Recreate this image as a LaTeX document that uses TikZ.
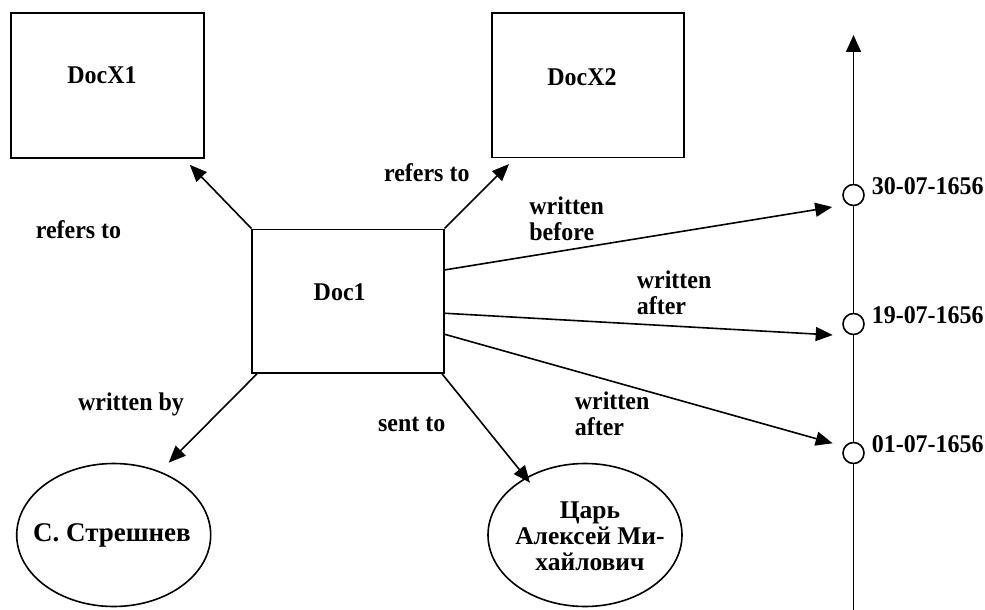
\documentclass[tikz,border=0pt]{standalone}
\usepackage{fontspec}
\setmainfont{Liberation Serif}[FakeStretch=0.94]
\newfontfamily\namefont{Liberation Serif}
\usetikzlibrary{arrows.meta,calc,shapes.geometric}
\begin{document}
\begin{tikzpicture}[x=1pt,y=-1pt,
  line width=1.6pt,
  every node/.style={font=\bfseries\fontsize{25.5}{26}\selectfont},
  docbox/.style={draw, rectangle, inner sep=0pt},
  person/.style={draw, ellipse, inner sep=0pt, minimum width=194pt, minimum height=143pt},
  tick/.style={draw, circle, fill=white, minimum size=21pt, inner sep=0pt},
  rel/.style={-{Triangle[length=17pt,width=14pt]}},
  lbl/.style={anchor=base west, inner sep=0pt},
  mlbl/.style={anchor=north west, inner sep=0pt, align=left},
  ttl/.style={anchor=base, inner sep=0pt},
]
\useasboundingbox (0,0) rectangle (985,610);

% documents
\node[docbox, minimum width=193pt, minimum height=145pt] (x1) at (107.5,85.5) {};
\node[ttl] (x1t) at (102,83.3) {DocX1};
\node[docbox, minimum width=192pt, minimum height=144pt] (x2) at (587.8,85.3) {};
\node[ttl] (x2t) at (582,85) {DocX2};
\node[docbox, minimum width=191.5pt, minimum height=143.7pt] (doc1) at (348,301.2) {};
\node[ttl] (doc1t) at (339.7,300) {Doc1};

% persons
\node[person] (p1) at (113.7,535) {};
\node[ttl, font=\namefont\bfseries\fontsize{27}{30}\selectfont] (p1t) at (112,541.7) {С. Стрешнев};
\node[person] (p2) at (585,535) {};
\node[align=center, inner sep=0pt, font=\namefont\bfseries\fontsize{25.5}{26}\selectfont] (p2t) at (590,536.5) {Царь\\Алексей Ми-\\хайлович};

% time axis
\coordinate (tbot) at (853.5,612);
\coordinate (ttop) at (853.5,35);
\draw[-{Triangle[length=17pt,width=15pt]}] (tbot) -- (ttop);
\node[tick] (c1) at (853.5,195) {};
\node[tick] (c2) at (853.5,324) {};
\node[tick] (c3) at (853.5,453) {};
\node[lbl] (d1) at ($(c1.center)+(17.5,-1)$) {30-07-1656};
\node[lbl] (d2) at ($(c2.center)+(17.5,-1)$) {19-07-1656};
\node[lbl] (d3) at ($(c3.center)+(17.5,-1)$) {01-07-1656};

% relations
\draw[rel] (doc1.north west) -- ($(x1.south east)+(-15,6)$);
\draw[rel] (doc1.north east) -- ($(x2.south west)+(18,6)$);
\draw[rel] ($(doc1.north east)+(0,41.4)$) -- ($(c1.west)+(-10,12)$);
\draw[rel] ($(doc1.north east)+(0,84.7)$) -- ($(c2.west)+(-9.5,11)$);
\draw[rel] ($(doc1.north east)+(0,105.7)$) -- ($(c3.west)+(-9.5,-9.7)$);
\draw[rel] ($(doc1.south west)+(5.5,0)$) -- ($(p1.north)+(55,0)$);
\draw[rel] ($(doc1.south east)+(-2.5,0)$) -- ($(p2.north)+(-55,20)$);

% relation labels
\node[lbl] (r1) at (35,238.3) {refers to};
\node[lbl] (r2) at (383.3,181.7) {refers to};
\node[lbl] (wby) at (77.3,410.7) {written by};
\node[lbl] (sto) at (377.3,431.7) {sent to};
\node[mlbl] (wb) at (528.6,196.5) {written\\before};
\node[mlbl] (wa1) at (636,270.2) {written\\after};
\node[mlbl] (wa2) at (574,390.8) {written\\after};
\end{tikzpicture}
\end{document}
